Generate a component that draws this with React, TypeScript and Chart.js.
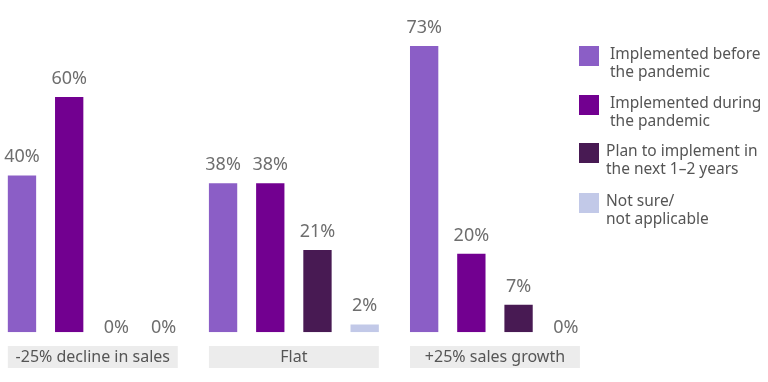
import React, { useEffect, useRef } from "react";
import { Chart, registerables } from "chart.js";

Chart.register(...registerables);

const categories = ["-25% decline in sales", "Flat", "+25% sales growth"];
const seriesNames = [
  ["Implemented before", "the pandemic"],
  ["Implemented during", "the pandemic"],
  ["Plan to implement in", "the next 1–2 years"],
  ["Not sure/", "not applicable"],
];
const implementedBefore = [40, 38, 73];
const implementedDuring = [60, 38, 20];
const planToImplement = [0, 21, 7];
const notSure = [0, 2, 0];
const seriesValues = [implementedBefore, implementedDuring, planToImplement, notSure];
const seriesColors = ["#8B5EC6", "#720090", "#481A53", "#C2C9E8"];

const FONT = "'Noto Sans', 'Open Sans', sans-serif";
const SHIFT = 8; // canvas is shifted left by this many px on the page

const decorPlugin = {
  id: "decor",
  beforeDatasetsDraw(chart: any) {
    const ctx = chart.ctx;
    const first = chart.getDatasetMeta(0);
    const last = chart.getDatasetMeta(chart.data.datasets.length - 1);
    ctx.save();
    categories.forEach((cat, i) => {
      const a = first.data[i];
      const b = last.data[i];
      const left = a.x - a.width / 2;
      const right = b.x + b.width / 2;
      ctx.fillStyle = "#ECECEC";
      ctx.fillRect(left, 346, right - left, 22);
      ctx.fillStyle = "#555555";
      ctx.font = `16px ${FONT}`;
      ctx.textAlign = "center";
      ctx.textBaseline = "middle";
      ctx.fillText(cat, (left + right) / 2, 357);
    });
    ctx.restore();
  },
  afterDatasetsDraw(chart: any) {
    const ctx = chart.ctx;
    ctx.save();
    ctx.font = `18px ${FONT}`;
    ctx.fillStyle = "#6E6E6E";
    ctx.textAlign = "center";
    ctx.textBaseline = "alphabetic";
    chart.data.datasets.forEach((ds: any, di: number) => {
      const meta = chart.getDatasetMeta(di);
      meta.data.forEach((bar: any, i: number) => {
        const v = ds.data[i];
        const y = v > 0 ? bar.y - 13 : bar.base + 1;
        ctx.fillText(`${v}%`, bar.x, y);
      });
    });
    ctx.restore();
  },
  afterDraw(chart: any) {
    const ctx = chart.ctx;
    ctx.save();
    const tops = [46, 95, 143, 193];
    const textX = [610, 610, 606, 606];
    seriesNames.forEach((lines, i) => {
      ctx.fillStyle = seriesColors[i];
      ctx.fillRect(579 + SHIFT, tops[i], 20, 20);
      ctx.fillStyle = "#555555";
      ctx.font = `15.5px ${FONT}`;
      ctx.textAlign = "left";
      ctx.textBaseline = "middle";
      lines.forEach((ln, li) => {
        ctx.fillText(ln, textX[i] + SHIFT, tops[i] + 9 + li * 17.5);
      });
    });
    ctx.restore();
  },
};

export default function App() {
  const ref = useRef<HTMLCanvasElement>(null);
  useEffect(() => {
    if (!ref.current) return;
    const chart = new Chart(ref.current, {
      type: "bar",
      data: {
        labels: categories,
        datasets: seriesValues.map((vals, i) => ({
          label: seriesNames[i].join(" "),
          data: vals,
          backgroundColor: seriesColors[i],
          borderWidth: 0,
          categoryPercentage: 0.939,
          barPercentage: 0.6,
        })),
      },
      options: {
        responsive: false,
        animation: false,
        layout: { padding: { left: 0.25, right: 172.5, top: 18.5, bottom: 49.7 } },
        plugins: { legend: { display: false }, tooltip: { enabled: false } },
        scales: {
          x: { display: false, grid: { display: false } },
          y: { display: false, min: 0, max: 80, grid: { display: false } },
        },
      },
      plugins: [decorPlugin],
    });
    return () => chart.destroy();
  }, []);
  return (
    <div style={{ position: "absolute", left: 0, top: 0, width: 768, height: 382, overflow: "hidden", background: "#fff" }}>
      <canvas ref={ref} width={768 + SHIFT} height={382} style={{ display: "block", marginLeft: -SHIFT }} />
    </div>
  );
}
